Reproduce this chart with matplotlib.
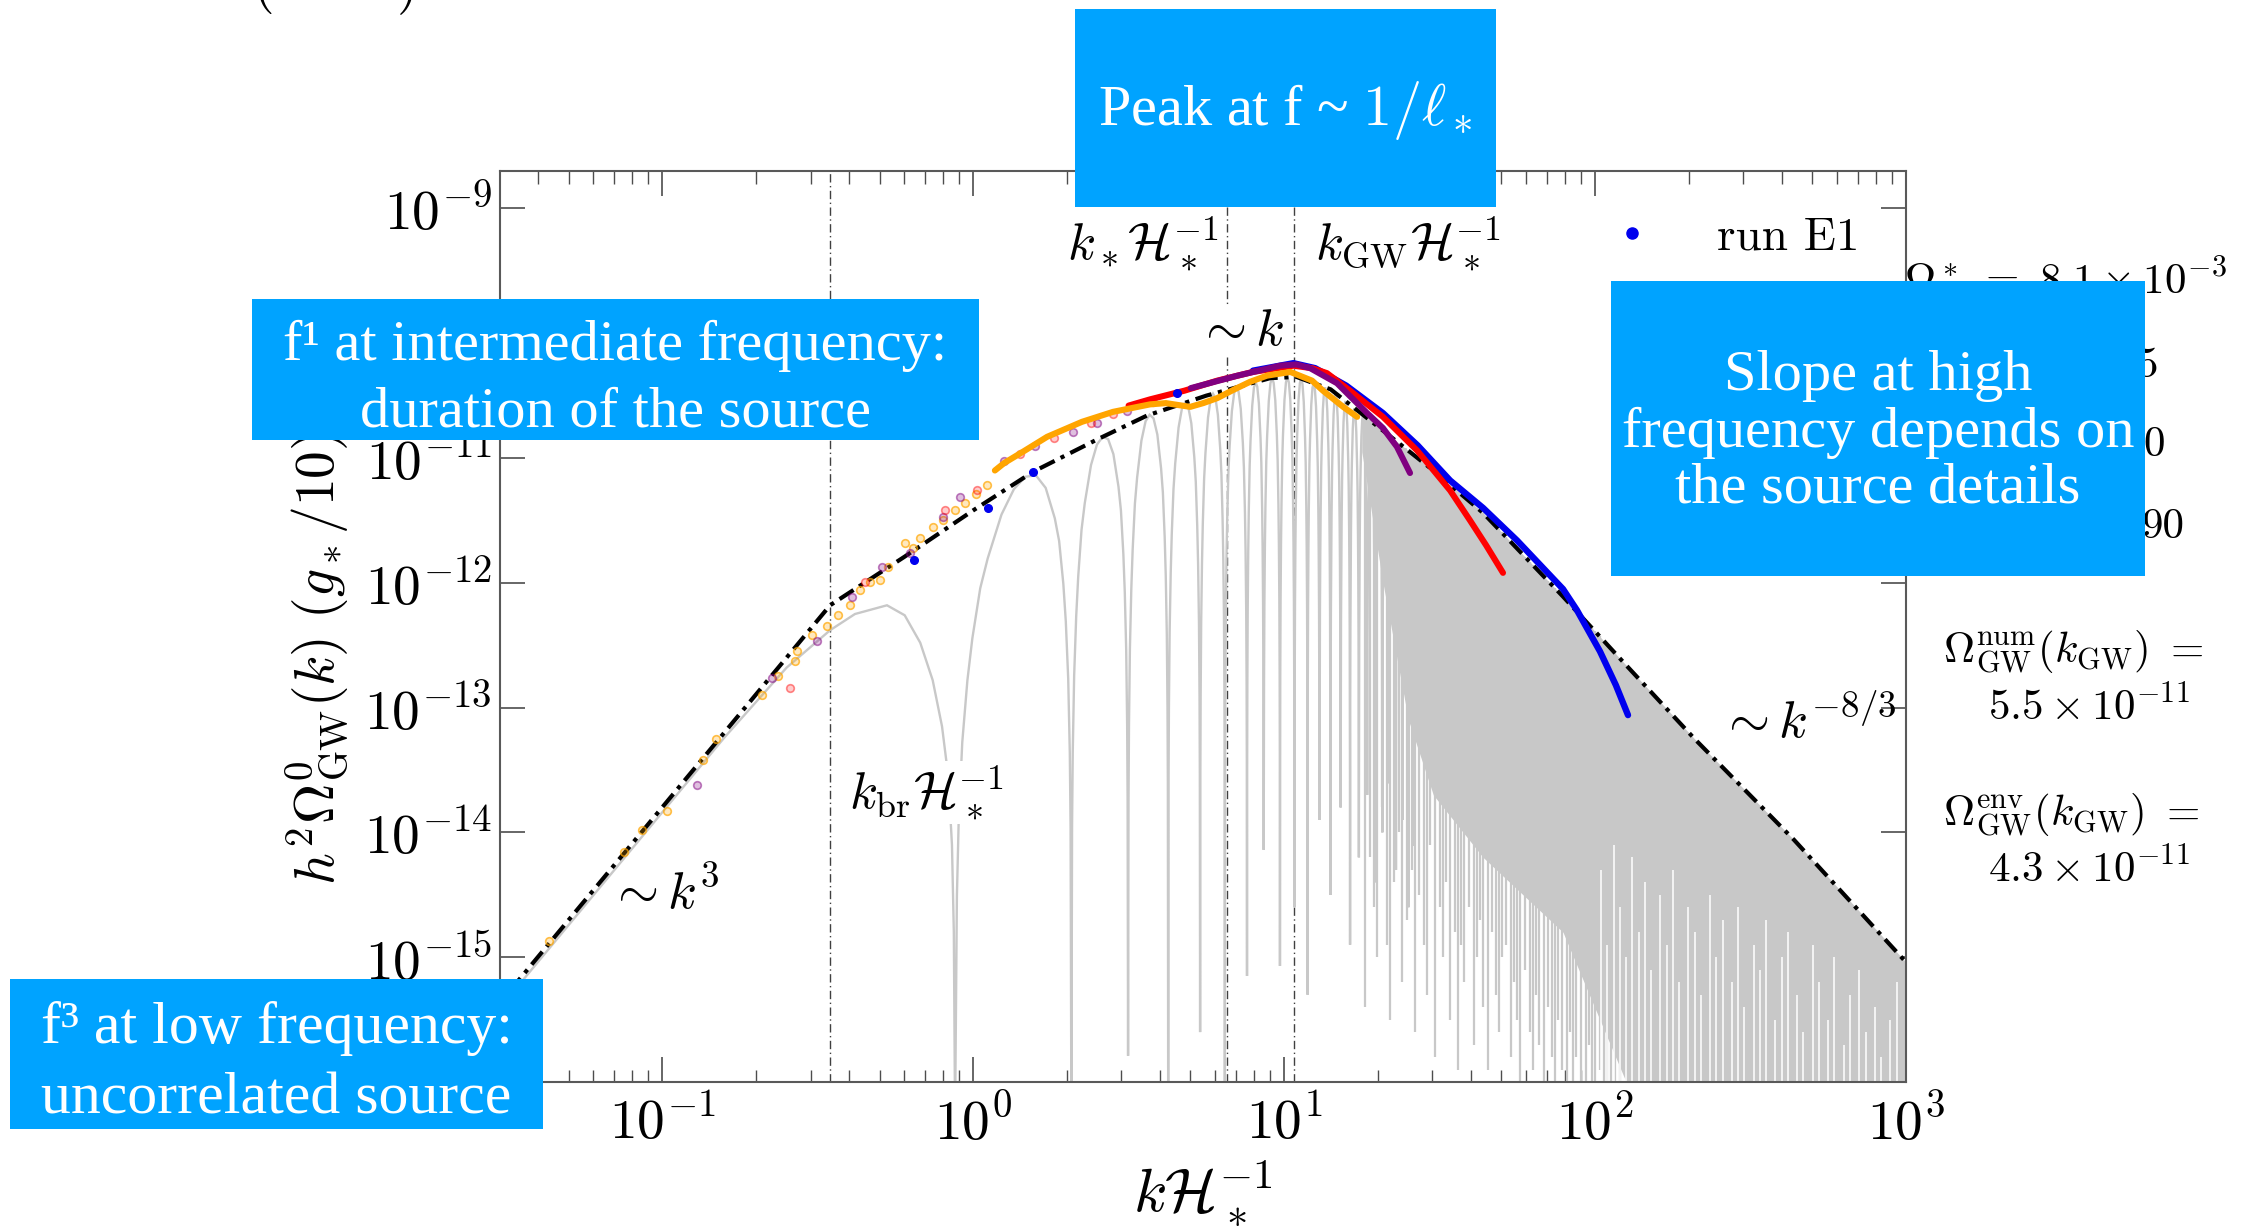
import numpy as np
import matplotlib
matplotlib.use("Agg")
import matplotlib.pyplot as plt
from matplotlib.patches import Rectangle
from matplotlib.lines import Line2D

plt.rcParams['mathtext.fontset'] = 'cm'
plt.rcParams['font.family'] = 'serif'
plt.rcParams['font.serif'] = ['cmr10', 'DejaVu Serif']
plt.rcParams['axes.formatter.use_mathtext'] = True

# ---------------- data (log10 values) ----------------
# analytic envelope (black dash-dot)
env_logk = [-1.56, -0.46, -0.22, 0.0, 0.193, 0.40, 0.559, 0.75, 0.955, 1.04, 1.15, 1.318,
            1.48, 1.64, 1.897, 2.10, 2.32, 2.64, 3.0]
env_logy = [-15.48, -12.18, -11.79, -11.42, -11.11, -10.85, -10.66, -10.50, -10.36, -10.35,
            -10.45, -10.78, -11.10, -11.44, -12.11, -12.66, -13.25, -14.06, -15.04]

# grey oscillating model: part before the first zero
grey_head_logk = [-1.56, -1.0, -0.8, -0.6, -0.46, -0.38, -0.277, -0.22, -0.17, -0.13, -0.10,
                  -0.08, -0.068, -0.062, -0.058]
grey_head_logy = [-15.52, -13.84, -13.24, -12.68, -12.38, -12.25, -12.18, -12.26, -12.48,
                  -12.78, -13.15, -13.55, -14.1, -14.8, -16.3]
# zeros of the oscillation and the depth reached by each dip
zeros_k = [0.875, 2.07, 3.15, 4.24, 5.37, 6.45, 7.6, 8.6, 9.7, 10.8, 11.9, 13.0, 14.1,
           15.2, 16.3, 17.4, 18.5, 19.6, 20.7, 21.8, 22.9, 24.0, 25.1, 26.2]
zeros_floor = [-16.3, -16.3, -15.79, -16.3, -15.6, -16.0, -15.15, -14.14, -15.07, -14.6,
               -15.3, -13.9, -14.5, -13.8, -14.9, -14.2, -13.7, -14.4, -14.0, -13.6, -14.3,
               -13.9, -14.6, -14.1]
# shape of one lobe (decades below the envelope vs. fraction of the period)
lobe_t = [0, 0.01, 0.02, 0.04, 0.07, 0.1, 0.15, 0.2, 0.3, 0.4, 0.5, 0.6, 0.7, 0.8, 0.85,
          0.9, 0.93, 0.96, 0.98, 0.99, 1.0]
lobe_drop = [-9, -3.0, -2.4, -1.8, -1.33, -1.02, -0.66, -0.46, -0.18, -0.04, 0, -0.04,
             -0.18, -0.46, -0.66, -1.02, -1.33, -1.8, -2.4, -3.0, -9]
# dense high-k part: solid grey band
fill_logk = [1.25, 1.318, 1.40, 1.48, 1.64, 1.897, 2.10, 2.32, 2.64, 3.0]
fill_floor = [-10.95, -12.0, -13.1, -13.7, -14.2, -14.8, -16.0, -16.0, -16.0, -16.0]
# grey dips hanging below the solid band
hang_logk = [1.26, 1.275, 1.29, 1.30, 1.315, 1.33, 1.34, 1.355,
             1.37, 1.38, 1.395, 1.41, 1.42, 1.435, 1.45, 1.46, 1.47, 1.485, 1.50, 1.51,
             1.52, 1.535, 1.55, 1.56, 1.57, 1.58, 1.595, 1.61, 1.62, 1.63, 1.64, 1.655,
             1.67, 1.68, 1.69, 1.70, 1.715, 1.73, 1.74, 1.75, 1.76, 1.775, 1.79, 1.80,
             1.81, 1.82, 1.835, 1.85, 1.86, 1.87, 1.88, 1.895, 1.91, 1.92, 1.93, 1.94,
             1.955, 1.97, 1.98, 1.99, 2.0, 2.015, 2.03, 2.04, 2.05, 2.065, 2.08]
hang_bottom = [-15.4, -14.2, -14.6, -15.0, -13.8, -14.9, -15.5,
               -14.4, -14.0, -15.2, -14.7, -14.3, -15.6, -14.5, -14.9, -15.3, -14.1, -15.8,
               -14.6, -15.0, -14.4, -15.5, -14.8, -15.9, -14.9, -15.2, -14.6, -15.7, -15.0,
               -14.7, -15.4, -15.9, -14.8, -15.3, -15.6, -15.0, -14.9, -15.8, -15.2, -15.5,
               -16.0, -15.1, -15.6, -15.9, -15.3, -15.7, -16.0, -15.4, -15.8, -16.0, -15.5,
               -15.9, -16.0, -15.6, -16.0, -15.8, -16.0, -16.0, -15.7, -16.0, -16.0, -15.9,
               -16.0, -16.0, -16.0, -16.0, -16.0]
# white gaps rising from the bottom inside the dense band
white_logk = [2.02, 2.04, 2.06, 2.08, 2.10, 2.12, 2.14, 2.16, 2.18, 2.21, 2.23, 2.25, 2.27,
              2.30, 2.32, 2.34, 2.37, 2.39, 2.41, 2.44, 2.46, 2.48, 2.51, 2.53, 2.55, 2.58,
              2.60, 2.62, 2.65, 2.67, 2.70, 2.72, 2.75, 2.77, 2.80, 2.82, 2.85, 2.87, 2.90,
              2.92, 2.95, 2.97]
white_top = [-14.3, -14.9, -14.1, -14.6, -15.0, -14.2, -14.8, -14.4, -15.1, -14.5, -14.9,
             -14.3, -15.2, -14.6, -14.8, -15.3, -14.5, -15.0, -14.7, -15.2, -14.6, -15.4,
             -14.9, -15.1, -14.7, -15.5, -15.0, -14.8, -15.3, -15.6, -14.9, -15.2, -15.5,
             -15.0, -15.7, -15.3, -15.1, -15.6, -15.4, -15.8, -15.5, -15.2]

# simulation runs: sparse low-k points
orange_dot_logk = [-1.365, -1.122, -1.064, -0.984, -0.87, -0.826, -0.678, -0.627, -0.572,
                   -0.566, -0.518, -0.469, -0.434, -0.395, -0.363, -0.331, -0.299, -0.273,
                   -0.219, -0.193, -0.17, -0.128, -0.096, -0.058, -0.026, 0.01, 0.045]
orange_dot_logy = [-14.87, -14.16, -13.98, -13.83, -13.42, -13.25, -12.90, -12.75, -12.63,
                   -12.55, -12.42, -12.35, -12.26, -12.18, -12.06, -11.99, -11.98, -11.87,
                   -11.68, -11.72, -11.64, -11.55, -11.50, -11.42, -11.36, -11.29, -11.22]
purple_dot_logk = [-0.887, -0.646, -0.502, -0.389, -0.293, -0.203, -0.096, -0.042, 0.1,
                   0.2, 0.32, 0.4, 0.495, 0.58]
purple_dot_logy = [-13.62, -12.76, -12.47, -12.11, -11.87, -11.76, -11.47, -11.31, -11.02,
                   -10.90, -10.79, -10.72, -10.62, -10.55]
red_dot_logk = [-0.588, -0.347, -0.09, 0.013, 0.15, 0.26, 0.38, 0.45]
red_dot_logy = [-12.84, -11.99, -11.42, -11.26, -10.97, -10.84, -10.72, -10.65]
blue_dot_logk = [-0.19, 0.048, 0.193, 0.656]
blue_dot_logy = [-11.82, -11.40, -11.11, -10.48]

# simulation runs: dense parts (look like thick lines)
orange_logk = [0.07, 0.1, 0.16, 0.238, 0.35, 0.45, 0.569, 0.62, 0.698, 0.74, 0.785, 0.84,
               0.89, 0.945, 1.02, 1.05, 1.09, 1.125, 1.16, 1.19, 1.235]
orange_logy = [-11.10, -11.04, -10.95, -10.83, -10.71, -10.63, -10.57, -10.56, -10.59,
               -10.56, -10.52, -10.45, -10.39, -10.34, -10.31, -10.34, -10.38, -10.46,
               -10.53, -10.59, -10.67]
red_logk = [0.5, 0.569, 0.68, 0.785, 0.9, 1.03, 1.09, 1.138, 1.212, 1.318, 1.428, 1.534,
            1.598, 1.65, 1.704]
red_logy = [-10.58, -10.53, -10.46, -10.38, -10.31, -10.26, -10.28, -10.32, -10.46, -10.67,
            -10.94, -11.26, -11.50, -11.70, -11.92]
purple_logk = [0.7, 0.85, 0.987, 1.04, 1.084, 1.17, 1.267, 1.318, 1.363, 1.405]
purple_logy = [-10.44, -10.34, -10.26, -10.25, -10.28, -10.40, -10.64, -10.76, -10.91, -11.12]
blue_logk = [0.9, 1.03, 1.1, 1.2, 1.318, 1.43, 1.534, 1.64, 1.749, 1.897, 1.942, 2.016,
             2.067, 2.106]
blue_logy = [-10.30, -10.24, -10.28, -10.42, -10.64, -10.90, -11.18, -11.40, -11.66, -12.05,
             -12.22, -12.55, -12.82, -13.06]

k_br, k_star, k_gw = 0.347, 6.55, 10.8

xlim = (0.0301, 1000.0)
ylim = (1e-16, 10 ** -8.70)

# ---------------- figure ----------------
W, H = 2241, 1230
fig = plt.figure(figsize=(W / 100, H / 100), dpi=100)
ax = fig.add_axes([500 / W, 1 - 1082 / H, 1406 / W, 911 / H])
ax.set_xscale('log')
ax.set_yscale('log')
ax.set_xlim(*xlim)
ax.set_ylim(*ylim)

GREY = '#c8c8c8'
p = lambda a: 10 ** np.asarray(a, dtype=float)

# grey model curve: head + lobes
gx = list(p(grey_head_logk))
gy = list(p(grey_head_logy))
for i in range(len(zeros_k) - 1):
    a, b = zeros_k[i], zeros_k[i + 1]
    for t, d in zip(lobe_t, lobe_drop):
        kk = a + t * (b - a)
        ly = np.interp(np.log10(kk), env_logk, env_logy) + d
        fl = zeros_floor[i] if t < 0.5 else zeros_floor[i + 1]
        gx.append(kk)
        gy.append(10 ** max(ly, fl))
ax.plot(gx, gy, color=GREY, lw=1.7, zorder=2, solid_joinstyle='miter')

# dense band
fk = np.asarray(fill_logk)
ax.fill_between(p(fk), p(fill_floor), p(np.interp(fk, env_logk, env_logy)),
                color=GREY, lw=0, zorder=2)
n = min(len(hang_logk), len(hang_bottom))
hk = np.asarray(hang_logk[:n])
ax.vlines(p(hk), p(hang_bottom[:n]), p(np.interp(hk, env_logk, env_logy)),
          color=GREY, lw=1.6, zorder=2)
wk = np.asarray(white_logk)
ax.vlines(p(wk), 1e-16, p(white_top), color='white', lw=1.1, zorder=2.5)

# vertical reference lines
for kv in (k_br, k_star, k_gw):
    ax.axvline(kv, color='0.25', lw=1.0, ls=(0, (6, 2.5, 1, 2.5)), zorder=1)

# envelope
ax.plot(p(env_logk), p(env_logy), color='black', lw=3.0,
        ls=(0, (4, 1.6, 1, 1.6)), zorder=4)

# runs
ax.plot(p(orange_dot_logk), p(orange_dot_logy), 'o', ms=5.5, mew=1.2,
        mfc=(1, 0.65, 0, 0.25), mec=(1, 0.65, 0, 0.7), zorder=5)
ax.plot(p(purple_dot_logk), p(purple_dot_logy), 'o', ms=5.5, mew=1.2,
        mfc=(0.5, 0, 0.5, 0.25), mec=(0.5, 0, 0.5, 0.5), zorder=5)
ax.plot(p(red_dot_logk), p(red_dot_logy), 'o', ms=5.5, mew=1.2,
        mfc=(1, 0, 0, 0.2), mec=(1, 0, 0, 0.45), zorder=5)
ax.plot(p(blue_dot_logk), p(blue_dot_logy), 'o', ms=5.5, color='#0000ee', zorder=6)

ax.plot(p(blue_logk), p(blue_logy), color='#0000ee', lw=4.6, solid_capstyle='round', zorder=5)
ax.plot(p(red_logk), p(red_logy), color='#ff0000', lw=4.4, solid_capstyle='round', zorder=5.2)
ax.plot(p(purple_logk), p(purple_logy), color='#800080', lw=4.4, solid_capstyle='round', zorder=5.4)
ax.plot(p(orange_logk), p(orange_logy), color='#ffa500', lw=4.4, solid_capstyle='round', zorder=5.6)

# annotations
ax.text(0.101, 10 ** -14.48, r'$\sim k^3$', fontsize=38, ha='center', va='center', zorder=7)
ax.text(0.706, 10 ** -13.68, r'$k_{\rm br}\mathcal{H}_*^{-1}$', fontsize=37, ha='center',
        va='center', zorder=7, bbox=dict(facecolor='white', edgecolor='none', pad=2))
ax.text(3.52, 10 ** -9.28, r'$k_*\mathcal{H}_*^{-1}$', fontsize=37, ha='center', va='center', zorder=7)
ax.text(25.0, 10 ** -9.28, r'$k_{\rm GW}\mathcal{H}_*^{-1}$', fontsize=37, ha='center', va='center', zorder=7)
ax.text(7.22, 10 ** -9.99, r'$\sim k$', fontsize=38, ha='center', va='center', zorder=7,
        bbox=dict(facecolor='white', edgecolor='none', pad=1))
ax.text(484, 10 ** -13.11, r'$\sim k^{-8/3}$', fontsize=38, ha='center', va='center', zorder=7)

leg = ax.legend(handles=[Line2D([0], [0], marker='o', color='#0000ee', ls='none', ms=8)],
                labels=['run E1'], loc='upper left', bbox_to_anchor=(0.788, 0.95),
                frameon=False, fontsize=34, handlelength=1.0, handletextpad=1.3,
                borderpad=0, borderaxespad=0)
leg.set_zorder(8)

# axes style
ax.set_yticks([10.0 ** e for e in range(-16, -8)])
ax.yaxis.set_minor_locator(matplotlib.ticker.NullLocator())
ax.tick_params(which='both', direction='in', top=True, right=True, color='0.3')
ax.tick_params(which='major', length=18, width=1.2, labelsize=40, pad=6)
ax.tick_params(which='minor', length=9, width=1.0)
ax.tick_params(axis='x', which='major', pad=10)
for s in ax.spines.values():
    s.set_color('0.35')
    s.set_linewidth(1.5)
ax.set_xlabel(r'$k\mathcal{H}_*^{-1}$', fontsize=44, labelpad=4)
ax.set_ylabel(r'$h^2\Omega^0_{\rm GW}(k)\ (g_*/10)^{1/3}$', fontsize=40, labelpad=10)

# texts outside the axes (right side)
def ftext(x, y, s, **kw):
    fig.text(x / W, 1 - y / H, s, zorder=5, **kw)

ftext(2227, 281, r'$\Omega_{\rm K}^*\ =\ 8.1\times10^{-3}$', fontsize=31, ha='right', va='center')
ftext(2158, 366, '5', fontsize=31, ha='right', va='center')
ftext(2165, 445, '0', fontsize=31, ha='right', va='center')
ftext(2184, 527, '90', fontsize=31, ha='right', va='center')
ftext(1943, 652, r'$\Omega_{\rm GW}^{\rm num}(k_{\rm GW})\ =$', fontsize=31, ha='left', va='center')
ftext(2190, 706, r'$5.5\times10^{-11}$', fontsize=31, ha='right', va='center')
ftext(1943, 815, r'$\Omega_{\rm GW}^{\rm env}(k_{\rm GW})\ =$', fontsize=31, ha='left', va='center')
ftext(2190, 868, r'$4.3\times10^{-11}$', fontsize=31, ha='right', va='center')
ftext(263, -14, '(', fontsize=40, ha='center', va='center')
ftext(408, -14, ')', fontsize=40, ha='center', va='center')

# blue call-out boxes
BLUE = '#00a3ff'
def box(x0, y0, x1, y1, text, fs, ls, dy):
    fig.add_artist(Rectangle((x0 / W, 1 - y1 / H), (x1 - x0) / W, (y1 - y0) / H,
                             transform=fig.transFigure, facecolor=BLUE, edgecolor='none',
                             zorder=20))
    fig.text((x0 + x1) / 2 / W, 1 - ((y0 + y1) / 2 + dy) / H, text, color='white',
             fontsize=fs, family='Liberation Serif', ha='center', va='center',
             multialignment='center', linespacing=ls, zorder=21)

box(1075, 9, 1496, 207, r'Peak at f ~ $1/\ell_*$', 42, 1.1, 3)
box(252, 299, 979, 440, 'f\u00b9 at intermediate frequency:\nduration of the source', 42, 1.36, 10)
box(1611, 281, 2145, 576, 'Slope at high\nfrequency depends on\nthe source details', 42, 1.1, 4)
box(10, 979, 543, 1129, 'f\u00b3 at low frequency:\nuncorrelated source', 43, 1.4, 10)

fig.savefig('out.png', dpi=100)
